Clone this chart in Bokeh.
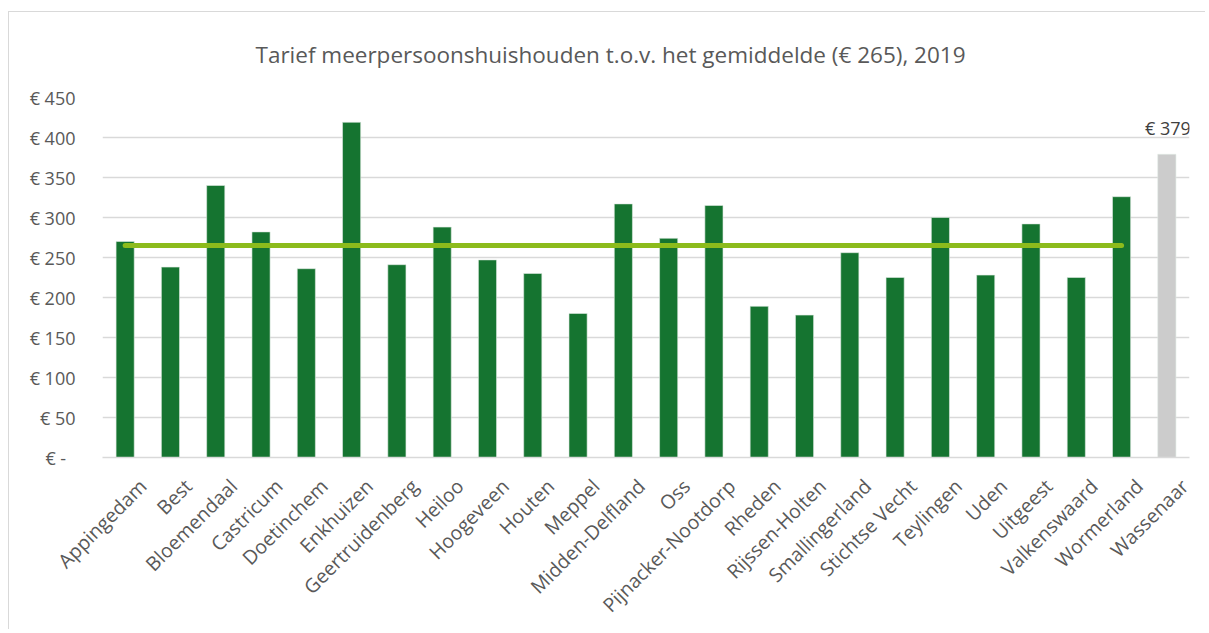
from bokeh.plotting import figure
from bokeh.models import Range1d, FixedTicker, ColumnDataSource, Label, LinearAxis
from bokeh.embed import file_html
from bokeh.resources import INLINE

# ---- data ----
gemeenten = ["Appingedam", "Best", "Bloemendaal", "Castricum", "Doetinchem", "Enkhuizen",
             "Geertruidenberg", "Heiloo", "Hoogeveen", "Houten", "Meppel", "Midden-Delfland",
             "Oss", "Pijnacker-Nootdorp", "Rheden", "Rijssen-Holten", "Smallingerland",
             "Stichtse Vecht", "Teylingen", "Uden", "Uitgeest", "Valkenswaard", "Wormerland",
             "Wassenaar"]
tarief = [270, 238, 340, 282, 236, 419, 241, 288, 247, 230, 180, 317,
          274, 315, 189, 178, 256, 225, 300, 228, 292, 225, 326, 379]
gemiddelde = 265
highlight = "Wassenaar"
y_ticks = [0, 50, 100, 150, 200, 250, 300, 350, 400, 450]
y_tick_labels = ["€ -\u00a0\u00a0", "€ 50", "€ 100", "€ 150", "€ 200", "€ 250", "€ 300",
                 "€ 350", "€ 400", "€ 450"]
title_text = "Tarief meerpersoonshuishouden t.o.v. het gemiddelde (€ 265), 2019"

FONT = "Open Sans"
TXT = "#595959"

n = len(gemeenten)
pos = [i + 0.5 for i in range(n)]          # category centres on the x scale
colors = ["#cccccc" if g == highlight else "#157430" for g in gemeenten]
src = ColumnDataSource(dict(x=pos, naam=gemeenten, top=tarief, color=colors))

p = figure(width=1197, height=618, output_backend="svg", toolbar_location=None,
           x_range=Range1d(0, n), y_range=Range1d(0, 450),
           min_border_left=93, min_border_right=17, min_border_top=85, min_border_bottom=165)
p.margin = (11, 0, 0, 8)

p.title.text = title_text
p.title.align = "left"
p.title.offset = 153
p.title.vertical_align = "top"
p.title.text_font = FONT
p.title.text_font_size = "22.5px"
p.title.text_font_style = "normal"
p.title.text_color = TXT
p.title.standoff = 52

p.styles = {"border-left": "1.5px solid #d9d9d9", "border-top": "1.5px solid #d9d9d9"}

p.outline_line_color = None
p.background_fill_color = "white"
p.border_fill_color = "white"

p.vbar(x="x", top="top", width=0.4, source=src, fill_color="color",
       line_color="#dfeae2", line_width=0.6)

avg_x = [pos[0], pos[-2]]
p.line(x=avg_x, y=[gemiddelde, gemiddelde], line_color="#8cbb1c", line_width=5,
       line_cap="round")

# value label above the highlighted bar
hi = gemeenten.index(highlight)
p.add_layout(Label(x=pos[hi], y=tarief[hi], text="€ %d" % tarief[hi], text_align="center",
                   text_baseline="bottom", y_offset=14, x_offset=1, text_font=FONT,
                   text_font_size="18px", text_color="#404040"))

p.yaxis.ticker = FixedTicker(ticks=y_ticks)
p.yaxis.major_label_overrides = {t: l for t, l in zip(y_ticks, y_tick_labels)}
p.yaxis.axis_line_color = None
p.yaxis.major_tick_line_color = None
p.yaxis.minor_tick_line_color = None
p.yaxis.major_label_text_font = FONT
p.yaxis.major_label_text_font_size = "18px"
p.yaxis.major_label_text_color = TXT
p.yaxis.major_label_standoff = 21

# hide the default x axis; category axis with labels nudged right like the original
p.xaxis.visible = False
label_shift = 0.39
p.extra_x_ranges = {"labels": Range1d(-label_shift, n - label_shift)}
xax = LinearAxis(x_range_name="labels", ticker=FixedTicker(ticks=pos),
                 major_label_overrides=dict(zip(pos, gemeenten)))
xax.axis_line_color = "#d9d9d9"
xax.axis_line_width = 1.5
xax.major_tick_line_color = None
xax.minor_tick_line_color = None
xax.major_label_orientation = 0.785398
xax.major_label_text_font = FONT
xax.major_label_text_font_size = "19.5px"
xax.major_label_text_color = TXT
xax.major_label_standoff = 19
p.add_layout(xax, "below")

p.xgrid.grid_line_color = None
p.ygrid.grid_line_color = "#d9d9d9"
p.ygrid.grid_line_width = 1.5

open("out.html", "w").write(file_html(p, INLINE))
